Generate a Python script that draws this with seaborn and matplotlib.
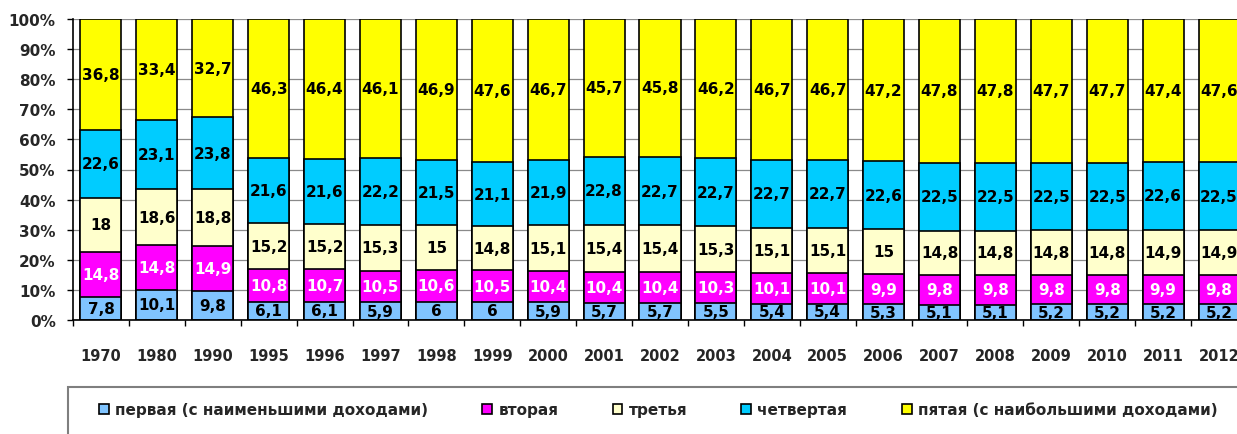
import numpy as np
import pandas as pd
import matplotlib
matplotlib.use("Agg")
import matplotlib.pyplot as plt
from matplotlib.patches import Patch, Rectangle
import seaborn as sns

years = ["1970", "1980", "1990", "1995", "1996", "1997", "1998", "1999", "2000",
         "2001", "2002", "2003", "2004", "2005", "2006", "2007", "2008", "2009",
         "2010", "2011", "2012"]
first = [7.8, 10.1, 9.8, 6.1, 6.1, 5.9, 6, 6, 5.9, 5.7, 5.7, 5.5, 5.4, 5.4, 5.3,
         5.1, 5.1, 5.2, 5.2, 5.2, 5.2]
second = [14.8, 14.8, 14.9, 10.8, 10.7, 10.5, 10.6, 10.5, 10.4, 10.4, 10.4, 10.3,
          10.1, 10.1, 9.9, 9.8, 9.8, 9.8, 9.8, 9.9, 9.8]
third = [18, 18.6, 18.8, 15.2, 15.2, 15.3, 15, 14.8, 15.1, 15.4, 15.4, 15.3, 15.1,
         15.1, 15, 14.8, 14.8, 14.8, 14.8, 14.9, 14.9]
fourth = [22.6, 23.1, 23.8, 21.6, 21.6, 22.2, 21.5, 21.1, 21.9, 22.8, 22.7, 22.7,
          22.7, 22.7, 22.6, 22.5, 22.5, 22.5, 22.5, 22.6, 22.5]
fifth = [36.8, 33.4, 32.7, 46.3, 46.4, 46.1, 46.9, 47.6, 46.7, 45.7, 45.8, 46.2,
         46.7, 46.7, 47.2, 47.8, 47.8, 47.7, 47.7, 47.4, 47.6]

series_names = ["первая (с наименьшими доходами)", "вторая", "третья",
                "четвертая", "пятая (с наибольшими доходами)"]
colors = ["#80C4FF", "#FF00FF", "#FFFFCC", "#00CCFF", "#FFFF00"]
label_colors = ["black", "white", "black", "black", "black"]

sns.set_theme(style="white")
plt.rcParams["font.family"] = ["DejaVu Sans"]

data = np.array([first, second, third, fourth, fifth], dtype=float)
totals = data.sum(axis=0)
shares = data / totals * 100.0
cum = np.cumsum(shares, axis=0)

fig = plt.figure(figsize=(12.37, 4.35), dpi=100)
ax = fig.add_axes([73 / 1237, 114 / 435, 1174 / 1237, 301 / 435])

for gridy in range(0, 101, 10):
    ax.axhline(gridy, color="#8a8a8a", lw=0.9, zorder=0)

df = pd.DataFrame({"year": years})
for i in range(4, -1, -1):
    df["v"] = cum[i]
    sns.barplot(data=df, x="year", y="v", color=colors[i], saturation=1,
                width=0.735, edgecolor="black", linewidth=1.2, ax=ax, zorder=2)

for i in range(5):
    for j in range(len(years)):
        center = cum[i][j] - shares[i][j] / 2
        txt = f"{data[i][j]:g}".replace(".", ",")
        ax.text(j, center, txt, ha="center", va="center", fontsize=11,
                fontweight="bold", color=label_colors[i], zorder=5)

ax.set_xlim(-0.5, len(years) - 0.5)
ax.set_ylim(0, 100)
ax.set_xlabel("")
ax.set_ylabel("")
ax.set_yticks(range(0, 101, 10))
ax.set_yticklabels([f"{v}%" for v in range(0, 101, 10)], fontsize=11,
                   fontweight="bold")
ax.tick_params(axis="y", length=4.5, width=1, color="black", pad=8, left=True)
ax.set_xticks(range(len(years)))
ax.set_xticklabels(years, fontsize=10.5, fontweight="bold")
ax.tick_params(axis="x", length=0, pad=20)
ax.set_xticks(np.arange(-0.5, len(years), 1.0), minor=True)
ax.tick_params(axis="x", which="minor", length=4.5, width=1, color="black",
               bottom=True)
for s in ["top", "right"]:
    ax.spines[s].set_visible(False)
for s in ["left", "bottom"]:
    ax.spines[s].set_color("black")
    ax.spines[s].set_linewidth(1.2)
    ax.spines[s].set_zorder(6)

fig.patches.append(Rectangle((68 / 1237, -0.2), 1.0, 0.2 + 47 / 435,
                             transform=fig.transFigure, facecolor="white",
                             edgecolor="#7f7f7f", linewidth=1.5))
handles = [Patch(facecolor=c, edgecolor="black", linewidth=1.2) for c in colors]
fig.legend(handles, series_names, loc="center left",
           bbox_to_anchor=(99 / 1237, 24 / 435), ncol=5, frameon=False,
           prop={"size": 11, "weight": "bold"}, handlelength=0.65,
           handleheight=0.65, handletextpad=0.4, columnspacing=3.55,
           borderaxespad=0, borderpad=0)

fig.savefig("out.png", dpi=100)
